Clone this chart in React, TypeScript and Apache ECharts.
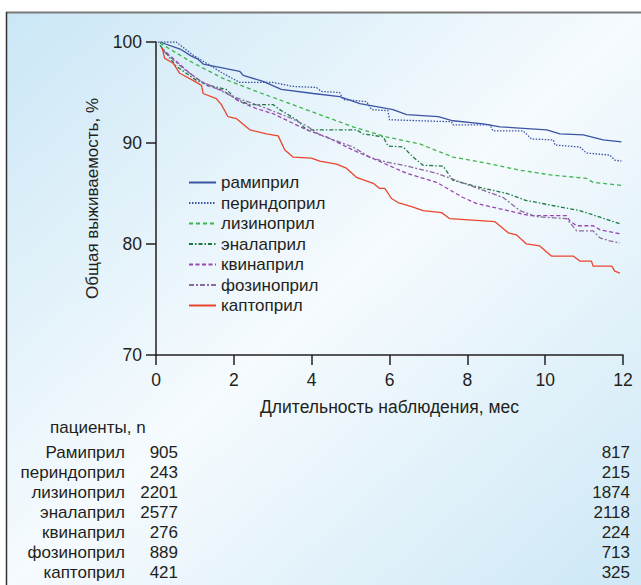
import React, { useEffect, useRef } from "react";
import * as echarts from "echarts";

const FONT = "'Liberation Sans', Arial, Helvetica, sans-serif";
const TXT = "#231f20";

const legendNames = ["рамиприл", "периндоприл", "лизиноприл", "эналаприл", "квинаприл", "фозиноприл", "каптоприл"];
const tableNames = ["Рамиприл", "периндоприл", "лизиноприл", "эналаприл", "квинаприл", "фозиноприл", "каптоприл"];
const nStart = [905, 243, 2201, 2577, 276, 889, 421];
const nEnd = [817, 215, 1874, 2118, 224, 713, 325];
const yTicks = [69, 80, 90, 100];
const yTickLabels = ["70", "80", "90", "100"];

const ramipril = [
  [0.1, 100], [0.62, 99.3], [0.91, 98.6], [1.08, 98.3], [1.22, 97.8], [2.15, 97.1], [2.24, 96.7], [2.75, 96.1],
  [3.22, 95.3], [4.04, 94.9], [4.72, 94.6], [5.24, 93.9], [6.09, 93.3], [6.44, 92.8], [7.25, 92.6],
  [7.63, 92.2], [8.41, 91.9], [8.84, 91.6], [10.04, 91.3], [10.38, 90.9], [10.98, 90.8], [11.49, 90.3], [11.96, 90.1],
];
const perindopril = [
  [0.05, 100], [0.52, 100], [0.95, 98.7], [1.21, 98.1], [1.72, 96.9], [2.15, 96.0], [3.0, 96.0], [3.52, 95.6],
  [4.12, 95.5], [4.25, 95.1], [4.72, 95.0], [4.81, 94.3], [5.41, 94.1], [5.54, 93.3], [5.96, 93.2], [6.0, 92.3],
  [7.59, 92.1], [7.63, 91.8], [8.58, 91.8], [8.66, 91.2], [9.43, 91.2], [9.65, 90.4], [10.21, 90.3], [10.25, 89.8],
  [10.89, 89.6], [11.06, 89.0], [11.66, 88.8], [11.79, 88.3], [11.96, 88.2],
];
const lisinopril = [
  [0.1, 99.9], [0.87, 98.1], [1.72, 96.4], [2.58, 95.1], [3.44, 93.9], [4.21, 92.8], [5.06, 91.6], [5.92, 90.6],
  [6.78, 89.9], [7.63, 88.6], [8.49, 88.0], [9.35, 87.3], [10.21, 86.8], [11.06, 86.5], [11.23, 86.1], [11.96, 85.8],
];
const enalapril = [
  [0.1, 99.7], [0.52, 97.6], [1.04, 96.2], [1.38, 95.7], [1.81, 95.3], [2.07, 94.3], [2.41, 93.8], [3.01, 93.8],
  [3.18, 93.3], [3.61, 92.3], [3.87, 91.3], [5.15, 91.3], [5.32, 90.9], [5.84, 90.6], [5.96, 89.7], [6.35, 89.6],
  [6.61, 88.6], [6.86, 87.8], [7.38, 87.7], [7.63, 86.3], [8.32, 85.6], [9.01, 85.0], [9.52, 84.3], [10.89, 83.3], [11.92, 82.0],
];
const kvinapril = [
  [0.14, 99.4], [0.87, 96.9], [1.3, 95.7], [1.72, 95.2], [2.15, 94.1], [2.58, 93.4], [3.01, 92.9], [3.44, 92.1],
  [3.87, 91.3], [4.38, 90.6], [5.06, 89.3], [5.67, 88.3], [6.44, 87.0], [7.21, 86.1], [7.89, 84.6], [8.24, 84.0],
  [9.61, 82.8], [10.55, 82.8], [10.63, 82.3], [10.81, 81.8], [11.23, 81.8], [11.41, 81.4], [11.92, 81.0],
];
const fozinopril = [
  [0.17, 99.2], [0.69, 97.4], [1.12, 96.2], [1.55, 95.4], [1.97, 94.6], [2.58, 93.8], [3.44, 92.5], [3.87, 91.7],
  [4.21, 90.8], [5.06, 89.6], [5.49, 88.6], [5.92, 88.1], [6.35, 87.8], [7.21, 87.0], [8.06, 85.8], [8.92, 84.6],
  [9.35, 83.3], [9.78, 82.7], [10.55, 82.5], [10.81, 81.3], [11.23, 81.3], [11.41, 80.6], [11.66, 80.3], [11.92, 80.1],
];
const kaptopril = [
  [0.16, 99.4], [0.22, 98.4], [0.44, 97.9], [0.61, 96.9], [0.95, 96.2], [1.17, 95.7], [1.21, 94.9], [1.55, 94.4],
  [1.68, 93.8], [1.85, 92.6], [2.07, 92.4], [2.41, 91.3], [2.84, 90.9], [3.14, 90.7], [3.31, 89.3], [3.52, 88.6],
  [3.99, 88.5], [4.21, 88.2], [4.64, 87.9], [4.89, 87.5], [5.15, 86.6], [5.58, 86.0], [5.75, 85.5], [5.88, 85.5],
  [6.05, 84.5], [6.22, 84.1], [6.57, 83.7], [6.86, 83.3], [7.34, 83.1], [7.55, 82.5], [8.71, 82.2], [9.05, 81.1],
  [9.26, 80.9], [9.52, 80.0], [9.86, 79.8], [10.16, 78.8], [10.72, 78.8], [10.89, 78.3], [11.19, 78.3], [11.23, 77.8],
  [11.71, 77.8], [11.79, 77.3], [11.92, 77.1],
];

const seriesData = [ramipril, perindopril, lisinopril, enalapril, kvinapril, fozinopril, kaptopril];
const seriesStyles: any[] = [
  { color: "#3b54a5", type: "solid" },
  { color: "#3b54a5", type: [1.5, 1.5] },
  { color: "#3cb54a", type: [4, 3] },
  { color: "#1d7a40", type: [4, 2, 1.5, 2] },
  { color: "#9a45b0", type: [4, 2.5] },
  { color: "#8a6a9c", type: [5, 2, 2, 2] },
  { color: "#e9462d", type: "solid" },
];

export default function App() {
  const ref = useRef<HTMLDivElement>(null);
  useEffect(() => {
    if (!ref.current) return;
    const chart = echarts.init(ref.current, undefined, { renderer: "svg" });
    const rowY0 = 452;
    const rowGap = 20.1;
    const ts = { fontSize: 17, fontFamily: FONT, fill: TXT, verticalAlign: "middle" };
    const tableTexts: any[] = [];
    tableNames.forEach((n, i) => {
      const y = rowY0 + i * rowGap;
      tableTexts.push({ type: "text", x: 125, y, style: { ...ts, text: n, align: "right" } });
      tableTexts.push({ type: "text", x: 178, y, style: { ...ts, text: String(nStart[i]), align: "right" } });
      tableTexts.push({ type: "text", x: 630, y, style: { ...ts, text: String(nEnd[i]), align: "right" } });
    });
    const option: any = {
      animation: false,
      graphic: [
        {
          type: "rect", z: -10, silent: true,
          shape: { x: 7, y: 13, width: 634, height: 572 },
          style: {
            fill: {
              type: "linear", x: 0, y: 0, x2: 1, y2: 1,
              colorStops: [
                { offset: 0, color: "#cbe7f6" },
                { offset: 0.5, color: "#f6fbfe" },
                { offset: 1, color: "#cde8f6" },
              ],
            },
          },
        },
        { type: "line", z: -5, shape: { x1: 6, y1: 12.5, x2: 641, y2: 12.5 }, style: { stroke: "#7a7a7a", lineWidth: 2 } },
        { type: "line", z: -5, shape: { x1: 6.5, y1: 12, x2: 6.5, y2: 585 }, style: { stroke: "#333333", lineWidth: 1.5 } },
        { type: "text", x: 92, y: 198.5, rotation: Math.PI / 2, style: { ...ts, text: "Общая выживаемость, %", align: "center" } },
        { type: "text", x: 50, y: 427, style: { ...ts, text: "пациенты, n", align: "left" } },
        ...tableTexts,
      ],
      legend: {
        orient: "vertical",
        left: 188,
        top: 174,
        padding: 0,
        itemWidth: 27,
        itemHeight: 14,
        itemGap: 3.5,
        data: legendNames,
        itemStyle: { opacity: 0 },
        textStyle: { fontSize: 17, fontFamily: FONT, color: TXT },
      },
      grid: { left: 156, top: 42, width: 467, height: 313, containLabel: false },
      xAxis: {
        type: "value", min: 0, max: 12, interval: 2,
        axisLine: { show: true, lineStyle: { color: TXT, width: 1.5 } },
        axisTick: { show: true, inside: false, length: 10, lineStyle: { color: TXT, width: 1.5 } },
        axisLabel: { fontSize: 17.5, fontFamily: FONT, color: TXT, margin: 16 },
        splitLine: { show: false },
        name: "Длительность наблюдения, мес",
        nameLocation: "middle",
        nameGap: 43,
        nameTextStyle: { fontSize: 17.5, fontFamily: FONT, color: TXT },
      },
      yAxis: {
        type: "value", min: 69, max: 100,
        axisLine: { show: true, lineStyle: { color: TXT, width: 1.5 } },
        axisTick: { show: true, inside: false, length: 10, customValues: yTicks, lineStyle: { color: TXT, width: 1.5 } },
        axisLabel: {
          fontSize: 17.5, fontFamily: FONT, color: TXT, margin: 14, customValues: yTicks,
          formatter: (v: number) => {
            const i = yTicks.indexOf(v);
            return i >= 0 ? yTickLabels[i] : "";
          },
        },
        splitLine: { show: false },
      },
      series: seriesData.map((d, i) => ({
        name: legendNames[i],
        type: "line",
        data: d,
        showSymbol: false,
        symbol: "none",
        lineStyle: { color: seriesStyles[i].color, type: seriesStyles[i].type, width: 1.3 },
        itemStyle: { color: seriesStyles[i].color },
      })),
    };
    chart.setOption(option);
    return () => chart.dispose();
  }, []);
  return <div ref={ref} style={{ position: "absolute", left: 0, top: 0, width: 641, height: 585 }} />;
}
